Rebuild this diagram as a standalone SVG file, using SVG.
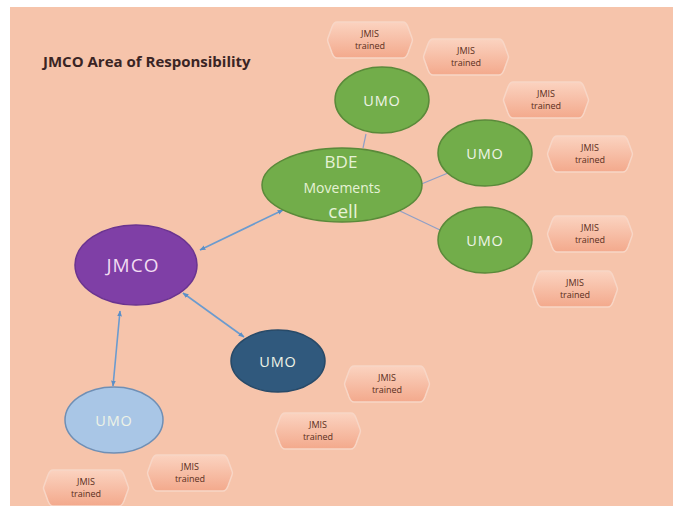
<svg xmlns="http://www.w3.org/2000/svg" width="673" height="506" viewBox="0 0 673 506">
<defs>
<linearGradient id="hexg" x1="0" y1="0" x2="0" y2="1">
<stop offset="0" stop-color="#fbd3c0"/>
<stop offset="1" stop-color="#f3a98c"/>
</linearGradient>
<marker id="ah" viewBox="0 0 10 10" refX="9" refY="5" markerWidth="6" markerHeight="6" orient="auto-start-reverse" markerUnits="userSpaceOnUse">
<path d="M0,1 L10,5 L0,9 z" fill="#5b8fc7"/>
</marker>
<path id="hex" d="M-33,-18 L33,-18 Q36,-18 38,-13 L42,-2 Q43,0 42,2 L38,13 Q36,18 33,18 L-33,18 Q-36,18 -38,13 L-42,2 Q-43,0 -42,-2 L-38,-13 Q-36,-18 -33,-18 z"/>
</defs>
<style>
.title{font-family:"Open Sans","Liberation Sans",sans-serif;font-weight:bold;font-size:15px;fill:#3a2424}
.lbl{font-family:"Open Sans","Liberation Sans",sans-serif;text-anchor:middle}
.umo{font-size:14.5px;letter-spacing:0.8px;fill:#eef3e6}
.jms{font-size:9px;fill:#5a2e20}
.hex{fill:url(#hexg);stroke:#f8d6c6;stroke-width:1.5}
.green{fill:#72ad4a;stroke:#5a8a3a;stroke-width:1.5}
.conn{stroke:#6b9bcf;stroke-width:1.6;fill:none}
.thin{stroke:#8f9fc6;stroke-width:1.2;fill:none}
</style>
<rect x="0" y="0" width="673" height="506" fill="#ffffff"/>
<rect x="10" y="7" width="663" height="499" fill="#f6c4ab"/>
<text class="title" x="43" y="67">JMCO Area of Responsibility</text>

<g id="connectors">
<line class="thin" x1="366" y1="134" x2="363" y2="148"/>
<line class="thin" x1="419" y1="185" x2="448" y2="173"/>
<line class="thin" x1="400" y1="211" x2="440" y2="230"/>
<line class="conn" x1="200" y1="250" x2="283" y2="210" marker-start="url(#ah)" marker-end="url(#ah)"/>
<line class="conn" x1="183" y1="293" x2="244" y2="337" marker-start="url(#ah)" marker-end="url(#ah)"/>
<line class="conn" x1="120" y1="311" x2="113" y2="386" marker-start="url(#ah)" marker-end="url(#ah)"/>
</g>

<g id="umo-top">
<ellipse class="green" cx="382" cy="100" rx="47" ry="33"/>
<text class="lbl umo" x="382" y="106">UMO</text>
</g>
<g id="umo-mid">
<ellipse class="green" cx="485" cy="153" rx="47" ry="33"/>
<text class="lbl umo" x="485" y="159">UMO</text>
</g>
<g id="umo-low">
<ellipse class="green" cx="485" cy="240" rx="47" ry="33"/>
<text class="lbl umo" x="485" y="246">UMO</text>
</g>
<g id="bde">
<ellipse class="green" cx="342" cy="185" rx="80" ry="37"/>
<text class="lbl" x="341" y="168" font-size="17" fill="#e6f2d6">BDE</text>
<text class="lbl" x="342" y="193" font-size="14" fill="#e6f2d6">Movements</text>
<text class="lbl" x="343" y="218" font-size="19" fill="#e6f2d6">cell</text>
</g>
<g id="jmco">
<ellipse cx="136" cy="265" rx="61" ry="40" fill="#7f3fa6" stroke="#6a3490" stroke-width="1.5"/>
<text class="lbl" x="133" y="272" font-size="19" letter-spacing="1" fill="#f2dcf2">JMCO</text>
</g>
<g id="umo-dark">
<ellipse cx="278" cy="361" rx="47" ry="31" fill="#30597d" stroke="#284a68" stroke-width="1.5"/>
<text class="lbl umo" x="278" y="367" fill="#e3ecf5">UMO</text>
</g>
<g id="umo-light">
<ellipse cx="114" cy="420" rx="49" ry="33" fill="#a9c6e6" stroke="#6f8fb5" stroke-width="1.5"/>
<text class="lbl umo" x="114" y="426" fill="#eef4fb">UMO</text>
</g>

<g id="jms1" transform="translate(370,40)"><use href="#hex" class="hex"/><text class="lbl jms" y="-3">JMIS</text><text class="lbl jms" y="9">trained</text></g>
<g id="jms2" transform="translate(466,57)"><use href="#hex" class="hex"/><text class="lbl jms" y="-3">JMIS</text><text class="lbl jms" y="9">trained</text></g>
<g id="jms3" transform="translate(546,100)"><use href="#hex" class="hex"/><text class="lbl jms" y="-3">JMIS</text><text class="lbl jms" y="9">trained</text></g>
<g id="jms4" transform="translate(590,154)"><use href="#hex" class="hex"/><text class="lbl jms" y="-3">JMIS</text><text class="lbl jms" y="9">trained</text></g>
<g id="jms5" transform="translate(590,234)"><use href="#hex" class="hex"/><text class="lbl jms" y="-3">JMIS</text><text class="lbl jms" y="9">trained</text></g>
<g id="jms6" transform="translate(575,289)"><use href="#hex" class="hex"/><text class="lbl jms" y="-3">JMIS</text><text class="lbl jms" y="9">trained</text></g>
<g id="jms7" transform="translate(387,384)"><use href="#hex" class="hex"/><text class="lbl jms" y="-3">JMIS</text><text class="lbl jms" y="9">trained</text></g>
<g id="jms8" transform="translate(318,431)"><use href="#hex" class="hex"/><text class="lbl jms" y="-3">JMIS</text><text class="lbl jms" y="9">trained</text></g>
<g id="jms9" transform="translate(190,473)"><use href="#hex" class="hex"/><text class="lbl jms" y="-3">JMIS</text><text class="lbl jms" y="9">trained</text></g>
<g id="jms10" transform="translate(86,488)"><use href="#hex" class="hex"/><text class="lbl jms" y="-3">JMIS</text><text class="lbl jms" y="9">trained</text></g>
</svg>
